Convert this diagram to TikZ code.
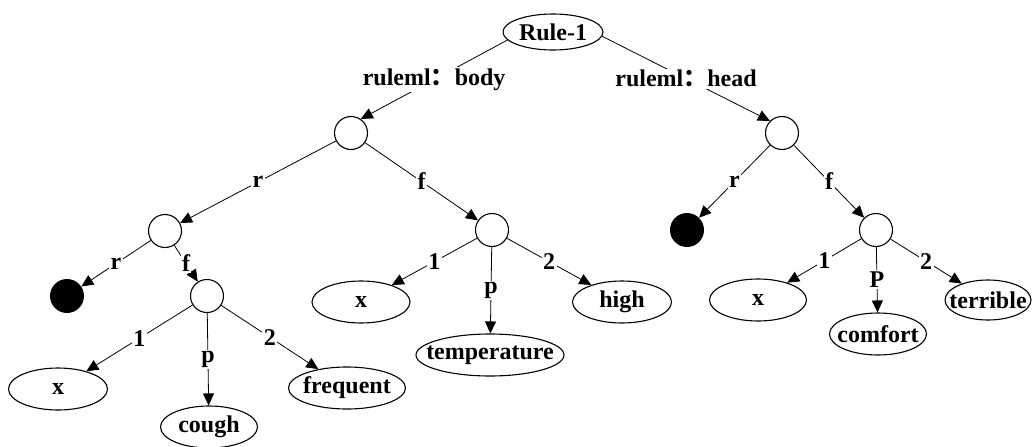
\documentclass[tikz,border=0pt]{standalone}
\usepackage{fontspec}
\setmainfont{Liberation Serif}
\newfontfamily\cjk{Noto Sans CJK SC}
\usetikzlibrary{shapes.geometric}
\usetikzlibrary{arrows.meta}
\tikzstyle{ell} = [ellipse, draw, line width=1.1pt, minimum height=42pt, inner sep=0pt]
\tikzstyle{blank} = [circle, draw, line width=1.1pt, minimum size=33pt, inner sep=0pt]
\tikzstyle{dot} = [circle, fill=black, minimum size=34pt, inner sep=0pt]
\tikzstyle{arrow} = [line width=0.8pt, -{Triangle[length=12pt,width=11pt]}]
\tikzstyle{lbl} = [fill=white, inner sep=1.5pt]
\newcommand{\word}[1]{\makebox[0pt]{#1}}

\begin{document}
\begin{tikzpicture}[x=1pt,y=-1pt,font=\fontsize{24}{27}\selectfont\bfseries]
  \useasboundingbox (0,0) rectangle (1034,447);
  % root
  \node[ell, minimum width=100pt, minimum height=36pt] (rule) at (553,32) {\word{Rule-1}};
  % body part
  \node[blank] (body) at (351,133) {};
  \node[blank] (bodyr) at (165,231) {};
  \node[blank] (bodyf) at (492,230) {};
  \node[dot] (bodyrr) at (67,296) {};
  \node[blank] (bodyrf) at (207,296) {};
  \node[ell, minimum width=99pt] (cx) at (58,389) {\word{x}};
  \node[ell, minimum width=97pt] (cough) at (209,427) {\word{cough}};
  \node[ell, minimum width=117pt] (frequent) at (347,388) {\word{frequent}};
  \node[ell, minimum width=98pt] (tx) at (361,302) {\word{x}};
  \node[ell, minimum width=148pt] (temperature) at (490,355) {\word{temperature}};
  \node[ell, minimum width=99pt] (high) at (622,302) {\word{high}};
  % head part
  \node[blank] (head) at (782,133) {};
  \node[dot] (headr) at (687,230) {};
  \node[blank] (headf) at (876,230) {};
  \node[ell, minimum width=97pt] (hx) at (758,300) {\word{x}};
  \node[ell, minimum width=97pt] (comfort) at (878,334) {\word{comfort}};
  \node[ell, minimum width=86pt, minimum height=40pt] (terrible) at (988,300) {\word{terrible}};

  \draw[arrow] (rule.190) -- node[lbl] {ruleml{\cjk ：}body} (body.55);
  \draw[arrow] (rule.-5) -- node[lbl] {ruleml{\cjk ：}head} (head.135);
  \draw[arrow] (body) -- node[lbl] {r} (bodyr);
  \draw[arrow] (body) -- node[lbl] {f} (bodyf);
  \draw[arrow] (bodyr) -- node[lbl] {r} (bodyrr);
  \draw[arrow] (bodyr) -- node[lbl] {f} (bodyrf);
  \draw[arrow] (bodyrf) -- node[lbl] {1} (cx);
  \draw[arrow] (bodyrf) -- node[lbl] {p} (cough);
  \draw[arrow] (bodyrf) -- node[lbl] {2} (frequent);
  \draw[arrow] (bodyf) -- node[lbl] {1} (tx);
  \draw[arrow] (bodyf) -- node[lbl] {p} (temperature);
  \draw[arrow] (bodyf) -- node[lbl] {2} (high);
  \draw[arrow] (head) -- node[lbl] {r} (headr);
  \draw[arrow] (head) -- node[lbl] {f} (headf);
  \draw[arrow] (headf) -- node[lbl] {1} (hx);
  \draw[arrow] (headf) -- node[lbl] {P} (comfort);
  \draw[arrow] (headf) -- node[lbl] {2} (terrible);
\end{tikzpicture}
\end{document}
